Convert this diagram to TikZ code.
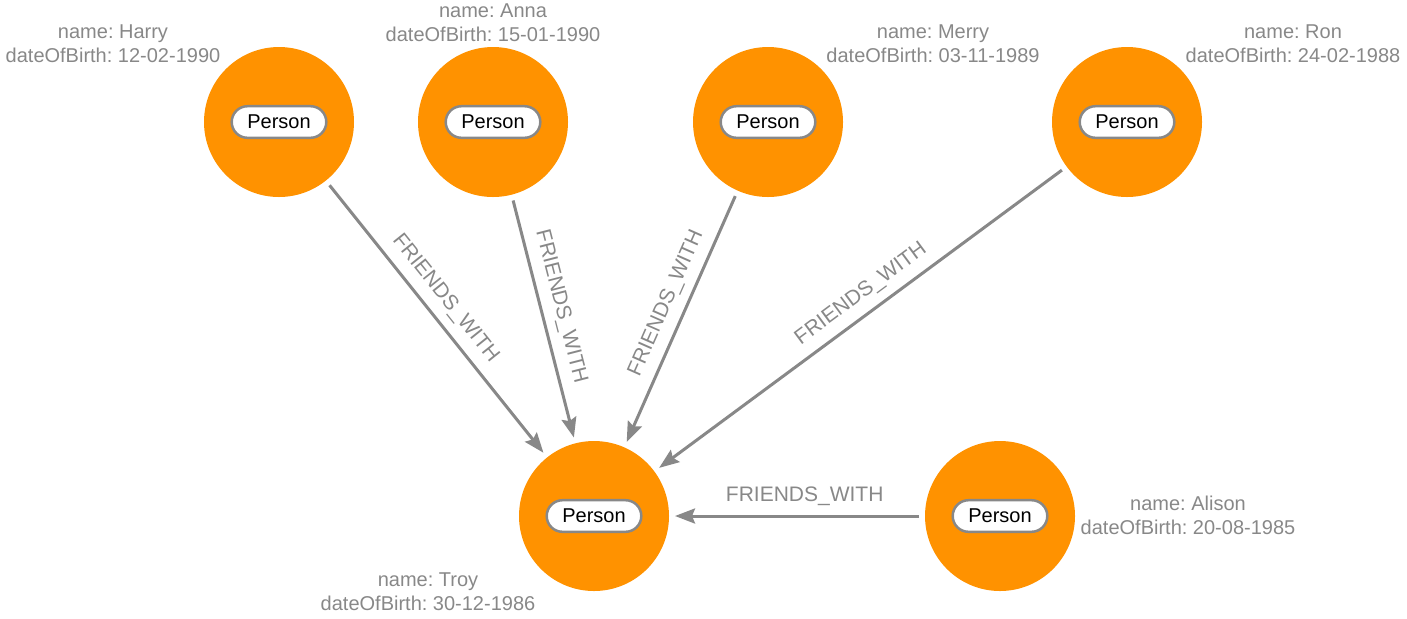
\documentclass[tikz,border=0pt]{standalone}
\usepackage{fontspec}
\setmainfont{Liberation Sans}
\usetikzlibrary{arrows.meta}
\definecolor{nodeorange}{RGB}{255,146,0}
\definecolor{edgegray}{RGB}{136,136,136}
\frenchspacing
\begin{document}
\begin{tikzpicture}[x=0.5pt,y=-0.5pt,
  person/.style={circle,fill=nodeorange,minimum size=75pt,inner sep=0pt,outer sep=0pt},
  tag/.style={draw=edgegray,line width=1.25pt,fill=white,rounded corners=7.9pt,minimum width=47.3pt,minimum height=15.8pt,inner sep=0pt,font=\fontsize{10pt}{12pt}\selectfont},
  props/.style={align=center,text=edgegray,font=\fontsize{10pt}{12pt}\selectfont},
  friends/.style={draw=edgegray,line width=1.5pt,-{Stealth[length=10pt,width=7.5pt,inset=1.5pt]},shorten <=3pt,shorten >=3pt},
  rel/.style={sloped,above=6.5pt,pos=0.47,inner sep=0pt,text depth=0pt,text=edgegray,font=\fontsize{10.5pt}{12pt}\selectfont}]
  \useasboundingbox (0,0) rectangle (1407,618);
  \node[person] (harry) at (279,122) {};
  \node[person] (anna) at (493,122) {};
  \node[person] (merry) at (768,122) {};
  \node[person] (ron) at (1127,122) {};
  \node[person] (troy) at (594,516) {};
  \node[person] (alison) at (1000,516) {};
  \node[tag] (harrytag) at (harry) {Person};
  \node[tag] (annatag) at (anna) {Person};
  \node[tag] (merrytag) at (merry) {Person};
  \node[tag] (rontag) at (ron) {Person};
  \node[tag] (troytag) at (troy) {Person};
  \node[tag] (alisontag) at (alison) {Person};
  \node[props] (harryprops) at (113,44) {name: Harry\\dateOfBirth: 12-02-1990};
  \node[props] (annaprops) at (493,23) {name: Anna\\dateOfBirth: 15-01-1990};
  \node[props] (merryprops) at (933,44) {name: Merry\\dateOfBirth: 03-11-1989};
  \node[props] (ronprops) at (1293,44) {name: Ron\\dateOfBirth: 24-02-1988};
  \node[props] (troyprops) at (428,592) {name: Troy\\dateOfBirth: 30-12-1986};
  \node[props] (alisonprops) at (1188,515) {name: Alison\\dateOfBirth: 20-08-1985};
  \draw[friends] (harry) -- node[rel] {FRIENDS\_WITH} (troy);
  \draw[friends] (anna) -- node[rel] {FRIENDS\_WITH} (troy);
  \draw[friends] (merry) -- node[rel] {FRIENDS\_WITH} (troy);
  \draw[friends] (ron) -- node[rel] {FRIENDS\_WITH} (troy);
  \draw[friends] (alison) -- node[rel] {FRIENDS\_WITH} (troy);
\end{tikzpicture}
\end{document}
